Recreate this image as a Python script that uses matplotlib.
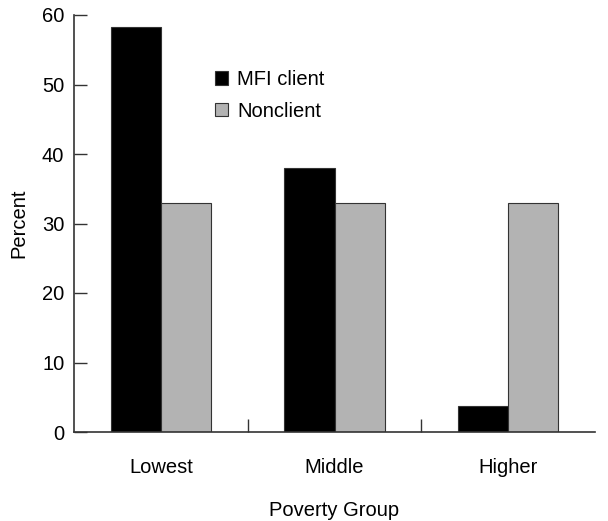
import matplotlib.pyplot as plt
import numpy as np

# datos
grupos = ["Lowest", "Middle", "Higher"]
mfi_client = [58.3, 38.0, 3.7]
nonclient = [33.0, 33.0, 33.0]
yticks = [0, 10, 20, 30, 40, 50, 60]

plt.rcParams['font.family'] = ['Liberation Sans', 'DejaVu Sans']

fig = plt.figure(figsize=(6.08, 5.21), dpi=100)
ax = fig.add_axes([74 / 608, 1 - 432 / 521, 521 / 608, 417 / 521])

x = np.arange(len(grupos))
w = 0.288
ax.bar(x - w / 2, mfi_client, w, color="black", edgecolor="#333333", linewidth=0.8, label="MFI client")
ax.bar(x + w / 2, nonclient, w, color="#b3b3b3", edgecolor="#333333", linewidth=0.8, label="Nonclient")

ax.set_xlim(-0.5, 2.5)
ax.set_ylim(0, 60)
ax.set_yticks(yticks)
ax.set_xticks(x)
ax.set_xticklabels(grupos)
ax.set_xticks([0.5, 1.5], minor=True)
ax.tick_params(axis="x", which="major", length=0, pad=19, labelsize=14.5)
ax.tick_params(axis="x", which="minor", direction="in", length=9.5, width=1, color="#333333")
ax.tick_params(axis="y", direction="in", length=9.5, width=1, pad=7, labelsize=14.5, color="#333333")

for s in ["top", "right"]:
    ax.spines[s].set_visible(False)
for s in ["left", "bottom"]:
    ax.spines[s].set_linewidth(1.2)
    ax.spines[s].set_color("#333333")

ax.set_ylabel("Percent", fontsize=14.5, labelpad=10)
ax.set_xlabel("Poverty Group", fontsize=14.5, labelpad=17)

ax.legend(loc="upper left", bbox_to_anchor=(0.2706, 0.868), frameon=False, fontsize=14.5,
          borderpad=0, borderaxespad=0,
          handlelength=0.65, handleheight=0.65, handletextpad=0.45, labelspacing=0.62)

plt.savefig("out.png")
